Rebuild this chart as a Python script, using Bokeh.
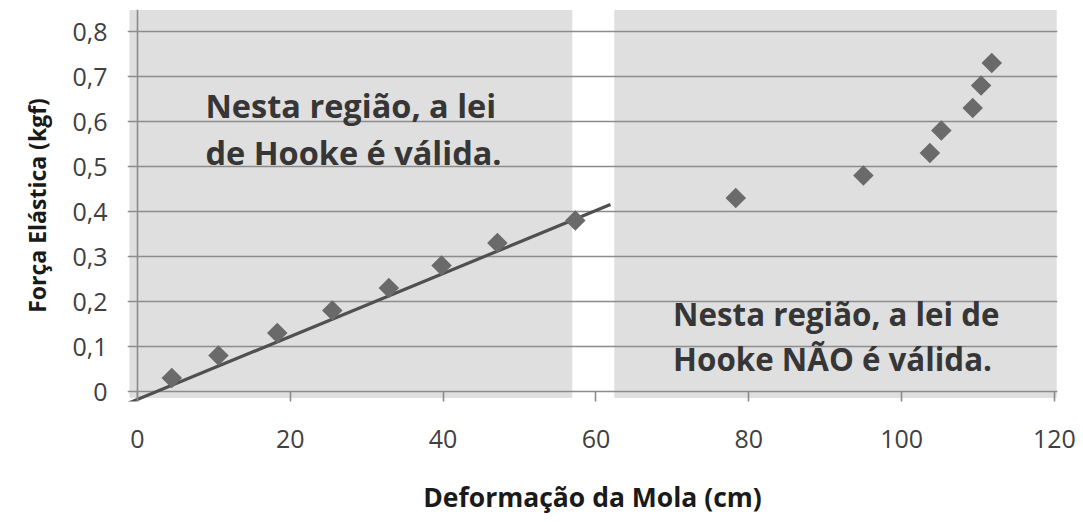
import numpy as np
from bokeh.plotting import figure
from bokeh.models import FixedTicker, Label, Range1d
from bokeh.embed import file_html
from bokeh.resources import INLINE

# ---- data ----
deformacao = [4.5, 10.6, 18.3, 25.5, 32.9, 39.8, 47.1, 57.3, 78.3, 95.0, 103.7, 105.2, 109.3, 110.4, 111.8]
forca = [0.03, 0.08, 0.13, 0.18, 0.23, 0.28, 0.33, 0.38, 0.43, 0.48, 0.53, 0.58, 0.63, 0.68, 0.73]

ajuste_x = [-1.2, 61.9]
ajuste_y = [-0.026, 0.4155]

regiao_left = [-1.05, 62.4]
regiao_right = [56.9, 120.3]
regiao_bottom = [-0.0145, -0.0145]
regiao_top = [0.848, 0.848]

x_ticks = [0, 20, 40, 60, 80, 100, 120]
y_ticks = [0, 0.1, 0.2, 0.3, 0.4, 0.5, 0.6, 0.7, 0.8]
y_tick_labels = ["0", "0,1", "0,2", "0,3", "0,4", "0,5", "0,6", "0,7", "0,8"]

texto_valida = ["Nesta região, a lei", "de Hooke é válida."]
texto_invalida = ["Nesta região, a lei de", "Hooke NÃO é válida."]

FONT = "Open Sans"
GRID = "#8c8c8c"

p = figure(width=1083, height=522, output_backend="svg", toolbar_location=None,
           x_range=Range1d(-1.3, 120.4), y_range=Range1d(-0.0222, 0.849),
           min_border_left=127, min_border_right=26, min_border_top=9, min_border_bottom=121,
           background_fill_color="white", border_fill_color="white", outline_line_color=None)

# shaded regions, drawn beneath the grid lines
p.quad(left=regiao_left, right=regiao_right, bottom=regiao_bottom, top=regiao_top,
       fill_color="#dfdfdf", line_color=None, level="image")

# horizontal grid lines (also act as y ticks and the x axis line)
p.ygrid.ticker = FixedTicker(ticks=y_ticks)
p.ygrid.bounds = (-1.3, 120)
p.ygrid.grid_line_color = GRID
p.ygrid.grid_line_width = 1.6
# vertical axis line at x = 0
p.xgrid.ticker = FixedTicker(ticks=[0])
p.xgrid.bounds = (0, 0.8)
p.xgrid.grid_line_color = GRID
p.xgrid.grid_line_width = 1.6

p.line(ajuste_x, ajuste_y, line_color="#505050", line_width=3.2)
p.scatter(deformacao, forca, marker="square", angle=np.pi / 4, size=14.5,
          fill_color="#6a6a6a", line_color=None)

for ax in (p.xaxis[0], p.yaxis[0]):
    ax.axis_line_color = None
    ax.minor_tick_line_color = None
    ax.major_label_text_font = FONT
    ax.major_label_text_font_size = "25px"
    ax.major_label_text_color = "#404040"
    ax.axis_label_text_font = FONT
    ax.axis_label_text_font_style = "bold"
    ax.axis_label_text_color = "#1a1a1a"

p.xaxis.ticker = FixedTicker(ticks=x_ticks)
p.xaxis.major_tick_line_color = GRID
p.xaxis.major_tick_line_width = 1.6
p.xaxis.major_tick_in = 10
p.xaxis.major_tick_out = 0
p.xaxis.major_label_standoff = 28
p.xaxis.axis_label = "Deformação da Mola (cm)"
p.xaxis.axis_label_text_font_size = "26.5px"
p.xaxis.axis_label_standoff = 28

p.yaxis.ticker = FixedTicker(ticks=y_ticks)
p.yaxis.major_label_overrides = {t: l for t, l in zip(y_ticks, y_tick_labels)}
p.yaxis.major_tick_line_color = None
p.yaxis.major_tick_in = 0
p.yaxis.major_tick_out = 0
p.yaxis.major_label_standoff = 20
p.yaxis.axis_label = "Força Elástica (kgf)"
p.yaxis.axis_label_text_font_size = "23px"
p.yaxis.axis_label_standoff = 16

def add_lines(lines, x, ys, size):
    for t, y in zip(lines, ys):
        p.add_layout(Label(x=x, y=y, text=t, text_font=FONT, text_font_style="bold",
                           text_font_size=size, text_color="#363636",
                           text_baseline="alphabetic", text_align="left"))

add_lines(texto_valida, 8.9, [0.636, 0.532], "32.5px")
add_lines(texto_invalida, 70.1, [0.173, 0.0733], "31.3px")

open("out.html", "w").write(file_html(p, INLINE))
